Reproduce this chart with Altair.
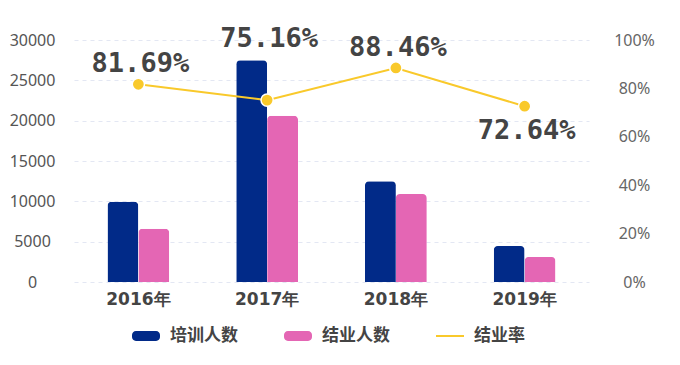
import altair as alt
import pandas as pd

years = ["2016年", "2017年", "2018年", "2019年"]
trained = [9950, 27500, 12500, 4450]
graduated = [6600, 20600, 10900, 3100]
rate = [0.8169, 0.7516, 0.8846, 0.7264]
rate_labels = ["81.69%", "75.16%", "88.46%", "72.64%"]
series = ["培训人数", "结业人数", "结业率"]
colors = ["#012a88", "#e466b4", "#f9c92b"]
y_ticks = [0, 5000, 10000, 15000, 20000, 25000, 30000]
pct_ticks = [0, 0.2, 0.4, 0.6, 0.8, 1.0]

bars_df = pd.DataFrame(
    [{"year": y, "series": series[0], "value": v} for y, v in zip(years, trained)]
    + [{"year": y, "series": series[1], "value": v} for y, v in zip(years, graduated)]
)
rate_df = pd.DataFrame({"year": years, "rate": rate, "label": rate_labels, "series": series[2]})

color_scale = alt.Scale(domain=series, range=colors)
x_enc = alt.X(
    "year:N",
    sort=years,
    scale=alt.Scale(paddingInner=0.52, paddingOuter=0.26),
    axis=alt.Axis(
        title=None, domain=False, ticks=False, labelAngle=0, labelPadding=9,
        labelFont="DejaVu Sans", labelFontSize=17, labelFontWeight="bold",
        labelColor="#444444",
    ),
)

rect_path = ("M-0.72,-0.36H0.72A0.28,0.28 0 0 1 1,-0.08V0.08A0.28,0.28 0 0 1 0.72,0.36"
             "H-0.72A0.28,0.28 0 0 1 -1,0.08V-0.08A0.28,0.28 0 0 1 -0.72,-0.36Z")
line_path = "M-1,-0.07H1V0.07H-1Z"

legend = alt.Legend(
    title=None, orient="none", direction="horizontal", legendX=58, legendY=282,
    symbolSize=784,
    symbolType=alt.ExprRef(f"datum.label == '结业率' ? '{line_path}' : '{rect_path}'"),
    symbolStrokeWidth=0, symbolOpacity=1,
    labelFont="Noto Sans CJK SC", labelFontSize=17, labelFontWeight="bold",
    labelColor="#444444", labelOffset=10, columnPadding=46,
)

bars = alt.Chart(bars_df).mark_bar(cornerRadiusTopLeft=4, cornerRadiusTopRight=4).encode(
    x=x_enc,
    xOffset=alt.XOffset("series:N", sort=series[:2], scale=alt.Scale(paddingInner=0, paddingOuter=0)),
    y=alt.Y(
        "value:Q",
        scale=alt.Scale(domain=[0, 30000], nice=False),
        axis=alt.Axis(
            title=None, values=y_ticks, format="d", grid=True, gridDash=[4, 4],
            gridColor="#e3e7f3", domain=False, ticks=False, labelAlign="center",
            labelPadding=42, labelFont="Noto Sans", labelFontSize=16, labelColor="#555555",
        ),
    ),
    color=alt.Color("series:N", scale=color_scale, legend=legend),
)

y_rate = alt.Y(
    "rate:Q",
    scale=alt.Scale(domain=[0, 1], nice=False),
    axis=alt.Axis(
        title=None, orient="right", values=pct_ticks, format=".0%", grid=False,
        domain=False, ticks=False, labelAlign="center", labelPadding=45,
        labelFont="Noto Sans", labelFontSize=16, labelColor="#666666",
    ),
)

line = alt.Chart(rate_df).mark_line(strokeWidth=2).encode(
    x=alt.X("year:N", sort=years), y=y_rate,
    color=alt.Color("series:N", scale=color_scale, legend=legend),
)
points = alt.Chart(rate_df).mark_point(
    filled=True, size=150, fill=colors[2], stroke="white", strokeWidth=1.5, opacity=1
).encode(x=alt.X("year:N", sort=years), y=alt.Y("rate:Q"))

def label_layer(yrs, dy):
    return alt.Chart(rate_df).transform_filter(
        alt.FieldOneOfPredicate(field="year", oneOf=yrs)
    ).mark_text(
        font="DejaVu Sans Mono", fontSize=27, fontWeight="bold", color="#444444",
        baseline="middle", align="center", dy=dy, dx=2,
    ).encode(x=alt.X("year:N", sort=years), y=alt.Y("rate:Q"), text="label:N")

labels = (label_layer([years[0], years[2]], -20) + label_layer([years[1]], -61)
          + label_layer([years[3]], 25))

rate_layer = alt.layer(line, points, labels)

chart = alt.layer(bars, rate_layer).resolve_scale(y="independent").properties(
    width=515, height=242,
    autosize=alt.AutoSizeParams(type="none"),
    padding={"left": 66, "top": 32, "right": 80, "bottom": 70},
).configure_view(stroke=None)

chart.save("out.html", embed_options={"renderer": "svg", "actions": False})
